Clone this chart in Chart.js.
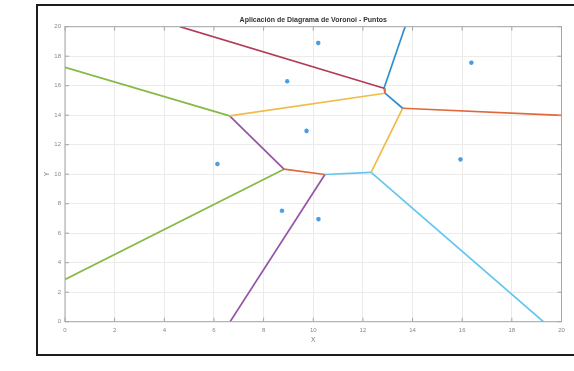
<!DOCTYPE html>
<html>
<head>
<meta charset="utf-8">
<script src="https://cdn.jsdelivr.net/npm/chart.js@4"></script>
<style>
  html, body { margin: 0; padding: 0; background: #fff; overflow: hidden; }
  #wrap { position: relative; width: 574px; height: 371px; }
  #frame { position: absolute; left: 36px; top: 4px; width: 560px; height: 348px; border: 2.5px solid #1c1c1c; }
  #chart { position: absolute; left: 0; top: 0; }
</style>
</head>
<body>
<div id="wrap">
  <div id="frame"></div>
  <canvas id="chart" width="574" height="371"></canvas>
</div>
<script>
// puntos generadores
const puntosX = [10.2, 8.95, 16.37, 9.73, 6.14, 15.93, 8.74, 10.21];
const puntosY = [18.9, 16.3, 17.56, 12.94, 10.69, 11.0, 7.52, 6.95];

// vertices del diagrama (incluye los cortes con el borde)
const verticesX = [4.63, 12.85, 13.70, 12.89, 13.60, 20.0, 6.63, 0.0, 8.82, 0.0, 10.47, 6.65, 12.33, 19.27];
const verticesY = [20.0, 15.83, 20.0, 15.49, 14.47, 13.99, 13.95, 17.25, 10.34, 2.87, 9.98, 0.0, 10.12, 0.0];

// aristas: indices de vertices
const aristaDesde = [0, 1, 1, 3, 3, 4, 4, 6, 6, 8, 8, 10, 10, 12];
const aristaHasta = [1, 2, 3, 6, 4, 5, 12, 7, 8, 9, 10, 11, 12, 13];

const ticks = [0, 2, 4, 6, 8, 10, 12, 14, 16, 18, 20];

// colores por arista (orden de colores de MATLAB, algo aclarados)
const coloresArista = ['#B33A55', '#2E8ED0', '#E0683A', '#F0BC48', '#2E8ED0', '#E0683A', '#F0BC48',
                       '#86B845', '#9454A6', '#86B845', '#E0683A', '#9454A6', '#64C6F0', '#64C6F0'];

const datasets = aristaDesde.map((a, i) => {
    const b = aristaHasta[i];
    return {
        data: [{ x: verticesX[a], y: verticesY[a] }, { x: verticesX[b], y: verticesY[b] }],
        showLine: true,
        borderColor: coloresArista[i],
        borderWidth: 1.7,
        pointRadius: 0,
        fill: false
    };
});

datasets.push({
    data: puntosX.map((x, i) => ({ x: x, y: puntosY[i] })),
    showLine: false,
    pointStyle: 'star',
    pointRadius: 2.3,
    borderWidth: 1.3,
    borderColor: '#4a9de0',
    backgroundColor: '#4a9de0'
});

// caja y marcas hacia adentro, como en MATLAB
const cajaPlugin = {
    id: 'caja',
    afterDatasetsDraw(chart) {
        const { ctx, chartArea: a, scales } = chart;
        ctx.save();
        ctx.strokeStyle = '#a6a6a6';
        ctx.lineWidth = 1;
        ctx.strokeRect(a.left, a.top, a.right - a.left, a.bottom - a.top);
        ctx.beginPath();
        ticks.forEach(t => {
            const px = scales.x.getPixelForValue(t);
            ctx.moveTo(px, a.bottom); ctx.lineTo(px, a.bottom - 4);
            ctx.moveTo(px, a.top); ctx.lineTo(px, a.top + 4);
            const py = scales.y.getPixelForValue(t);
            ctx.moveTo(a.left, py); ctx.lineTo(a.left + 4, py);
            ctx.moveTo(a.right, py); ctx.lineTo(a.right - 4, py);
        });
        ctx.stroke();
        ctx.restore();
    }
};

const ctx = document.getElementById('chart').getContext('2d');
new Chart(ctx, {
    type: 'scatter',
    data: { datasets: datasets },
    plugins: [cajaPlugin],
    options: {
        responsive: false,
        animation: false,
        layout: { padding: { left: 0, right: 12.5, top: 0, bottom: 0 } },
        plugins: {
            legend: { display: false },
            tooltip: { enabled: false },
            title: {
                display: true,
                text: 'Aplicación de Diagrama de Voronoi - Puntos',
                fullSize: false,
                color: '#333',
                font: { family: 'Liberation Sans', size: 7, weight: 'bold' },
                padding: { top: 16.3, bottom: 2 }
            }
        },
        scales: {
            x: {
                type: 'linear',
                min: 0,
                max: 20,
                afterFit: (s) => { s.height = 49.3; },
                afterBuildTicks: (s) => { s.ticks = ticks.map(v => ({ value: v })); },
                grid: { color: '#ebebeb', drawTicks: false },
                border: { display: false },
                ticks: {
                    color: '#888',
                    padding: 5,
                    maxRotation: 0,
                    font: { family: 'Liberation Sans', size: 6 }
                },
                title: {
                    display: true,
                    text: 'X',
                    color: '#777',
                    font: { family: 'Liberation Sans', size: 6.5 },
                    padding: { top: 0, bottom: 27 }
                }
            },
            y: {
                type: 'linear',
                min: 0,
                max: 20,
                afterFit: (s) => { s.width = 65; },
                afterBuildTicks: (s) => { s.ticks = ticks.map(v => ({ value: v })); },
                grid: { color: '#ebebeb', drawTicks: false },
                border: { display: false },
                ticks: {
                    color: '#888',
                    padding: 4,
                    font: { family: 'Liberation Sans', size: 6 }
                },
                title: {
                    display: true,
                    text: 'Y',
                    color: '#777',
                    font: { family: 'Liberation Sans', size: 6.5 },
                    padding: { top: 43, bottom: 0 }
                }
            }
        }
    }
});
</script>
</body>
</html>
